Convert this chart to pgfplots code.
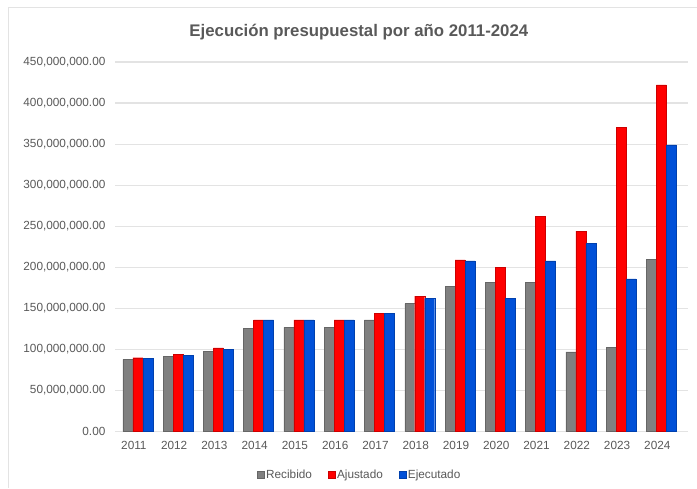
\documentclass[border=0pt]{standalone}
\usepackage{pgfplots}
\pgfplotsset{compat=1.18}
\usepackage{fontspec}
\setmainfont{Liberation Sans}
\definecolor{txt}{HTML}{595959}
\definecolor{recib}{HTML}{808080}
\definecolor{ajust}{HTML}{FF0000}
\definecolor{ejec}{HTML}{0050D8}
\definecolor{gridc}{HTML}{E3E3E3}
\begin{document}
\begin{tikzpicture}[x=1pt,y=1pt]
% page size and outer frame (pixel grid of the reference)
\path (-115,-56) rectangle (582,432);
\draw[gridc,line width=1pt] (-106,-56) -- (-106,424) -- (582,424);
\begin{axis}[
  at={(0,0)}, anchor=south west,
  scale only axis, width=573pt, height=370pt,
  ybar=0pt, bar width=10pt,
  xmin=-0.57, xmax=13.65,
  ymin=0, ymax=450000000,
  xtick={0,...,13},
  xticklabels={2011,2012,2013,2014,2015,2016,2017,2018,2019,2020,2021,2022,2023,2024},
  ytick={0,50000000,...,450000000},
  scaled y ticks=false,
  yticklabel style={/pgf/number format/fixed, /pgf/number format/fixed zerofill,
    /pgf/number format/precision=2, /pgf/number format/1000 sep={,},
    /pgf/number format/assume math mode=true, xshift=-6pt},
  ticklabel style={font=\fontsize{11.8}{13}\selectfont, text=txt},
  xticklabel style={yshift=-6pt, xshift=-4pt},
  axis line style={draw=none},
  major tick length=0pt,
  xmajorgrids=false, ymajorgrids, grid style={draw=gridc,line width=1.2pt},
  title={\textbf{Ejecución presupuestal por año 2011-2024}},
  title style={font=\fontsize{16.8}{20}\selectfont, text=txt, at={(0.426,1)}, yshift=12pt},
  legend style={draw=none, at={(0.4276,-0.116)}, anchor=center,
    legend columns=-1, font=\fontsize{11.8}{13}\selectfont, text=txt,
    /tikz/every even column/.append style={column sep=14pt},
    /tikz/every odd column/.append style={inner sep=1pt}},
  legend image code/.code={\fill[#1] (0pt,-3.3pt) rectangle (6.6pt,3.3pt);},
]
\addplot[fill=recib, draw=recib!80!black] coordinates {
(0,88000000) (1,92000000) (2,98000000) (3,126000000) (4,127000000) (5,127000000) (6,136000000)
(7,156000000) (8,177000000) (9,182000000) (10,182000000) (11,97000000) (12,103000000) (13,210000000)};
\addplot[fill=ajust, draw=ajust!80!black] coordinates {
(0,90000000) (1,94000000) (2,102000000) (3,136000000) (4,136000000) (5,136000000) (6,144000000)
(7,165000000) (8,209000000) (9,200000000) (10,262000000) (11,244000000) (12,370000000) (13,422000000)};
\addplot[fill=ejec, draw=ejec!80!black] coordinates {
(0,89000000) (1,93000000) (2,100000000) (3,136000000) (4,136000000) (5,136000000) (6,144000000)
(7,162000000) (8,208000000) (9,162000000) (10,208000000) (11,229000000) (12,186000000) (13,349000000)};
\legend{Recibido,Ajustado,Ejecutado}
\end{axis}
\end{tikzpicture}
\end{document}
